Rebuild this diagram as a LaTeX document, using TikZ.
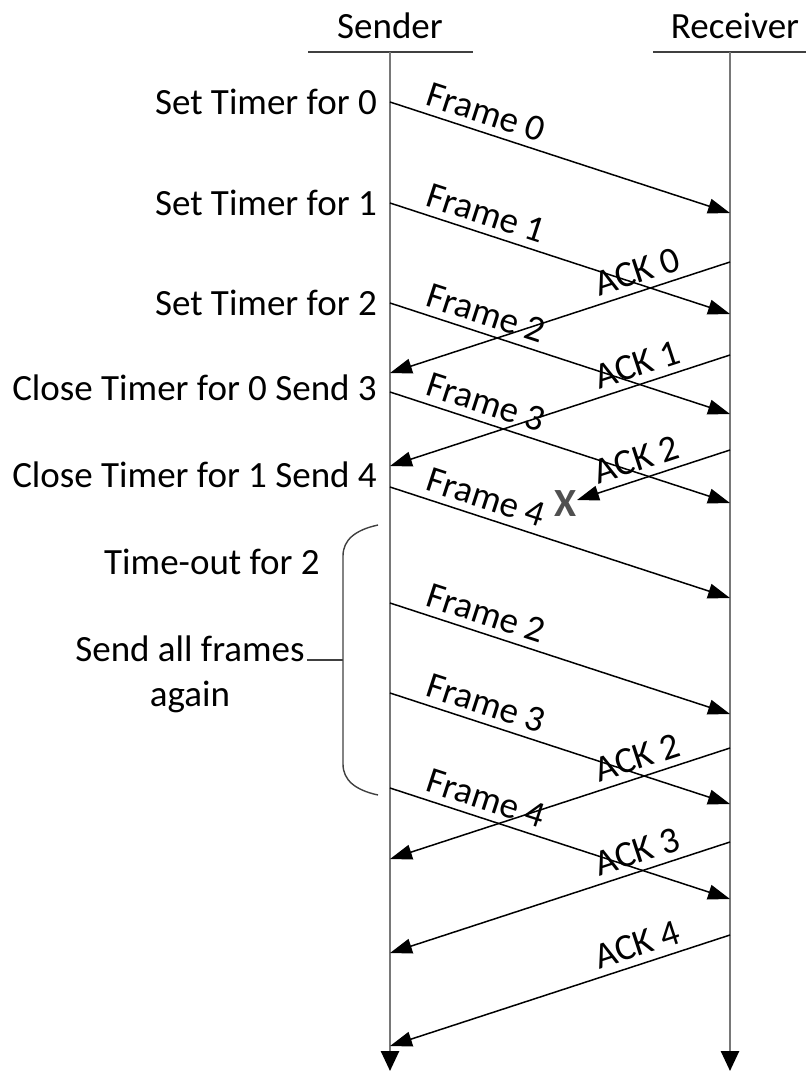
\documentclass[tikz,border=0pt]{standalone}
\usepackage{fontspec}
\setmainfont{Carlito}
\usepackage{xcolor}
\usetikzlibrary{arrows.meta,positioning,calc}
\definecolor{lifegray}{RGB}{120,120,120}
\definecolor{markgray}{RGB}{80,80,80}

\begin{document}
\begin{tikzpicture}[x=1pt,y=-1pt,>={Triangle[length=22pt,width=15pt]},
  lbl/.style={font=\fontsize{37}{45}\selectfont,inner sep=2pt},
  msg/.style={->,line width=1.5pt},
  life/.style={draw=lifegray,line width=2.6pt,-{Triangle[length=20pt,width=18pt,color=black]}},
  hdr/.style={draw=black!75,line width=2pt},
  brace/.style={draw=black!75,line width=1.4pt}]
\useasboundingbox (0,0) rectangle (806,1073);
% lifelines
\node[lbl](snd) at (390,26){Sender};
\node[lbl](rcv) at (735,26){Receiver};
\coordinate (sTop) at (390,52); \coordinate (sBot) at (390,1071);
\coordinate (rTop) at (730,52); \coordinate (rBot) at (730,1071);
\draw[hdr](308,52)--(473,52); \draw[hdr](653,52)--(806,52);
\draw[life](sTop)--(sBot); \draw[life](rTop)--(rBot);
% frames
\foreach \i/\y/\t in {0/102/0,1/203/1,2/303/2,3/392/3,4/487/4,5/603/2,6/693/3,7/788/4}{
  \coordinate (fs\i) at (390,\y); \coordinate (fr\i) at (730,\y+111);
  \draw[msg](fs\i)--node[lbl,pos=0.265,above=5pt,sloped]{Frame \t}(fr\i);
}
% acks
\foreach \i/\y/\t in {0/262/0,1/355/1,2/748/2,3/842/3,4/935/4}{
  \coordinate (ar\i) at (730,\y); \coordinate (as\i) at (390,\y+111);
  \draw[msg](ar\i)--node[lbl,pos=0.256,above=5pt,sloped]{ACK \t}(as\i);
}
\coordinate (arx) at (730,450); \coordinate (lost) at (577,500);
\node[font=\fontsize{40}{40}\selectfont\bfseries,text=markgray,inner sep=0pt](xmark) at (566,504){X};
\draw[msg](arx)--node[lbl,pos=0.57,above=5pt,sloped]{ACK 2}(lost);
% sender notes
\node[lbl,left=11pt of fs0](n0){Set Timer for 0};
\node[lbl,left=11pt of fs1](n1){Set Timer for 1};
\node[lbl,left=11pt of fs2](n2){Set Timer for 2};
\node[lbl,left=11pt of fs3,yshift=4pt](n3){Close Timer for 0 Send 3};
\node[lbl,left=11pt of fs4,yshift=12pt](n4){Close Timer for 1 Send 4};
\node[lbl](tout) at (212,562){Time-out for 2};
\node[lbl,align=center](again) at (190,674){Send all frames\\again};
\coordinate (btip) at (343,660);
\draw[brace](378,525) .. controls (355,530) and (343,540) .. (343,556) -- (343,764) .. controls (343,780) and (355,790) .. (378,795);
\draw[brace](btip)--(btip -| again.east);
\end{tikzpicture}
\end{document}
